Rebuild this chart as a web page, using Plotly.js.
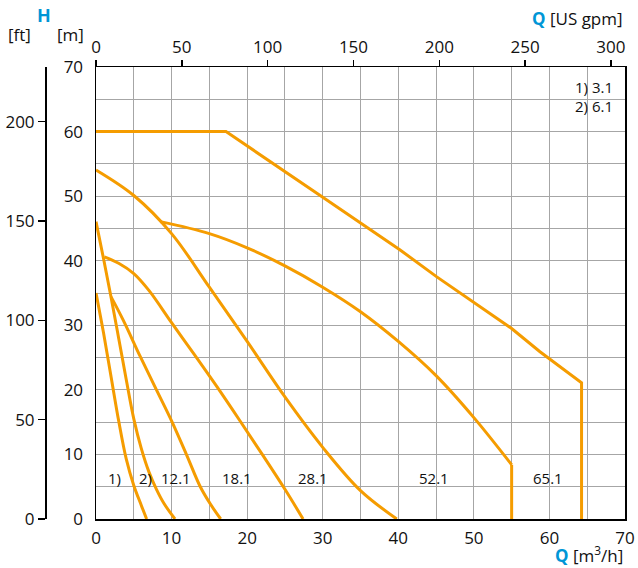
<!DOCTYPE html>
<html>
<head>
<meta charset="utf-8">
<script src="https://cdn.plot.ly/plotly-3.0.1.min.js"></script>
<style>html,body{margin:0;padding:0;background:#fff}#chart{width:638px;height:568px}</style>
</head>
<body>
<div id="chart"></div>
<script>
// ---------- data (Q in m3/h, H in m) ----------
const curveNames = ['1)', '2)', '12.1', '18.1', '28.1', '52.1', '65.1'];

const q_1 = [0, 1, 2, 3, 4, 5, 6, 6.7];
const h_1 = [35.0, 28.8, 22.0, 15.2, 9.3, 5.2, 2.1, 0];

const q_2 = [0, 1, 2, 3, 4, 5, 6, 7, 8, 9, 10.45];
const h_2 = [46.05, 40.3, 34.3, 28.0, 21.6, 15.5, 10.9, 7.3, 4.6, 2.4, 0];

const q_12 = [2.0, 3.6, 5.8, 8, 10, 12, 13.8, 15.2, 16.5];
const h_12 = [34.4, 30.8, 25.3, 20.0, 15.2, 9.9, 5.0, 2.2, 0];

const q_18 = [1.1, 3, 5, 7, 10, 13, 16, 19, 22, 25, 27.4];
const h_18 = [40.6, 39.6, 38.0, 35.4, 30.4, 25.5, 20.5, 15.3, 10.0, 4.6, 0];

const q_28 = [0, 5, 10, 15, 20, 25, 30, 35, 39.8];
const h_28 = [54.05, 50.1, 44.2, 35.9, 27.5, 18.9, 11.1, 4.4, 0];

const q_52 = [8.5, 15, 20, 25, 30, 35, 40, 45, 50, 55.0, 55.0];
const h_52 = [46.05, 44.2, 42.0, 39.2, 35.9, 32.1, 27.5, 22.2, 15.7, 8.4, 0];

const q_65 = [0, 17.2, 30.3, 40.2, 45.1, 55.0, 58.75, 64.25, 64.25];
const h_65 = [60.0, 60.0, 49.6, 41.7, 37.5, 29.5, 25.9, 21.1, 0];

const xTicks = [0, 10, 20, 30, 40, 50, 60, 70];     // m3/h
const yTicks = [0, 10, 20, 30, 40, 50, 60, 70];     // m
const gpmTicks = [0, 50, 100, 150, 200, 250, 300];  // US gpm
const ftTicks = [0, 50, 100, 150, 200];             // ft
const notes = ['1) 3.1', '2) 6.1'];

const M3H_TO_GPM = 4.40287;

// ---------- styling ----------
const ORANGE = '#f59c00';
const BLUE = '#0096d6';
const FONT = 'Open Sans, Noto Sans, sans-serif';
const GRID = '#a6a6a6';

const curves = [
  {q: q_1, h: h_1, shape: 'spline'},
  {q: q_2, h: h_2, shape: 'spline'},
  {q: q_12, h: h_12, shape: 'spline'},
  {q: q_18, h: h_18, shape: 'spline'},
  {q: q_28, h: h_28, shape: 'spline'},
  {q: q_52, h: h_52, shape: 'spline', verticalEnd: true},
  {q: q_65, h: h_65, shape: 'linear'}
];

const traces = [];
curves.forEach((c, i) => {
  if (c.verticalEnd) {
    const n = c.q.length;
    traces.push({x: c.q.slice(0, n - 1), y: c.h.slice(0, n - 1), mode: 'lines', name: curveNames[i],
      line: {color: ORANGE, width: 3, shape: 'spline', smoothing: 1}, hoverinfo: 'skip'});
    traces.push({x: c.q.slice(n - 2), y: c.h.slice(n - 2), mode: 'lines', name: curveNames[i],
      line: {color: ORANGE, width: 3}, hoverinfo: 'skip', showlegend: false});
  } else {
    traces.push({x: c.q, y: c.h, mode: 'lines', name: curveNames[i],
      line: {color: ORANGE, width: 3, shape: c.shape, smoothing: 1}, hoverinfo: 'skip'});
  }
});
// anchor trace for secondary axes
traces.push({x: [0], y: [0], xaxis: 'x2', yaxis: 'y2', mode: 'markers', marker: {opacity: 0, size: 1},
  hoverinfo: 'skip', showlegend: false});

// label positions (Q, H) inside the plot
const labelPos = [[2.45, 6.4], [6.5, 6.4], [10.6, 6.4], [18.7, 6.4], [28.65, 6.4], [44.75, 6.4], [59.75, 6.4]];

const annotations = curveNames.map((t, i) => ({
  x: labelPos[i][0], y: labelPos[i][1], xref: 'x', yref: 'y', text: t, showarrow: false,
  xanchor: 'center', yanchor: 'middle', font: {family: FONT, size: 15, color: '#111'}
}));
annotations.push({x: 68.7, y: 66.9, xref: 'x', yref: 'y', text: notes[0], showarrow: false,
  xanchor: 'right', yanchor: 'middle', font: {family: FONT, size: 15, color: '#111'}});
annotations.push({x: 68.7, y: 64.0, xref: 'x', yref: 'y', text: notes[1], showarrow: false,
  xanchor: 'right', yanchor: 'middle', font: {family: FONT, size: 15, color: '#111'}});

// axis titles
annotations.push({x: -0.002, y: 1.115, xref: 'paper', yref: 'paper', text: '<b>H</b>', showarrow: false,
  xanchor: 'center', yanchor: 'middle', font: {family: FONT, size: 18, color: BLUE}});
annotations.push({x: -0.0436, y: 1.0708, xref: 'paper', yref: 'paper', text: '[ft]', showarrow: false,
  xanchor: 'center', yanchor: 'middle', font: {family: FONT, size: 17, color: '#111'}});
annotations.push({x: 0.0445, y: 1.0708, xref: 'paper', yref: 'paper', text: '[m]', showarrow: false,
  xanchor: 'center', yanchor: 'middle', font: {family: FONT, size: 17, color: '#111'}});
annotations.push({x: 1.0, y: 1.107, xref: 'paper', yref: 'paper',
  text: '<b><span style="color:' + BLUE + '">Q</span></b> [US gpm]', showarrow: false,
  xanchor: 'right', yanchor: 'middle', font: {family: FONT, size: 17, color: '#111'}});
annotations.push({x: 1.0, y: -0.0796, xref: 'paper', yref: 'paper',
  text: '<b><span style="color:' + BLUE + '">Q</span></b> [m<sup>3</sup>/h]', showarrow: false,
  xanchor: 'right', yanchor: 'middle', font: {family: FONT, size: 17, color: '#111'}});

const tickFont = {family: FONT, size: 17, color: '#111'};
const xDomain = [51 / 580, 1];

const layout = {
  width: 638, height: 568,
  margin: {l: 45, r: 13, t: 67, b: 49, pad: 0},
  paper_bgcolor: '#fff', plot_bgcolor: '#fff',
  showlegend: false,
  xaxis: {
    domain: xDomain, range: [0, 70], tickvals: xTicks, ticktext: xTicks.map(String),
    ticks: 'outside', ticklen: 3, tickcolor: 'rgba(0,0,0,0)',
    showline: true, mirror: true, linecolor: '#000', linewidth: 1.5,
    showgrid: true, gridcolor: GRID, gridwidth: 1, zeroline: false,
    minor: {tick0: 0, dtick: 5, showgrid: true, gridcolor: GRID, gridwidth: 1},
    tickfont: tickFont, fixedrange: true
  },
  yaxis: {
    range: [0, 70], tickvals: yTicks, ticktext: yTicks.map(String),
    ticks: 'outside', ticklen: 8, tickcolor: 'rgba(0,0,0,0)',
    showline: true, mirror: true, linecolor: '#000', linewidth: 1.5,
    showgrid: true, gridcolor: GRID, gridwidth: 1, zeroline: false,
    minor: {tick0: 0, dtick: 5, showgrid: true, gridcolor: GRID, gridwidth: 1},
    tickfont: tickFont, fixedrange: true
  },
  xaxis2: {
    overlaying: 'x', side: 'top', anchor: 'y', domain: xDomain,
    range: [0, 70 * M3H_TO_GPM], tickvals: gpmTicks, ticktext: gpmTicks.map(String),
    ticks: 'outside', ticklen: 6, tickwidth: 1.5, tickcolor: '#000',
    showline: false, showgrid: false, zeroline: false, tickfont: tickFont, fixedrange: true
  },
  yaxis2: {
    overlaying: 'y', side: 'left', anchor: 'free', position: 0,
    range: [0, 227.5], tickvals: ftTicks, ticktext: ftTicks.map(String),
    ticks: 'outside', ticklen: 7, tickwidth: 1.5, tickcolor: '#000',
    showline: true, linecolor: '#000', linewidth: 1.5,
    showgrid: false, zeroline: false, tickfont: tickFont, fixedrange: true
  },
  annotations: annotations
};

Plotly.newPlot('chart', traces, layout, {displayModeBar: false, staticPlot: true});
</script>
</body>
</html>
